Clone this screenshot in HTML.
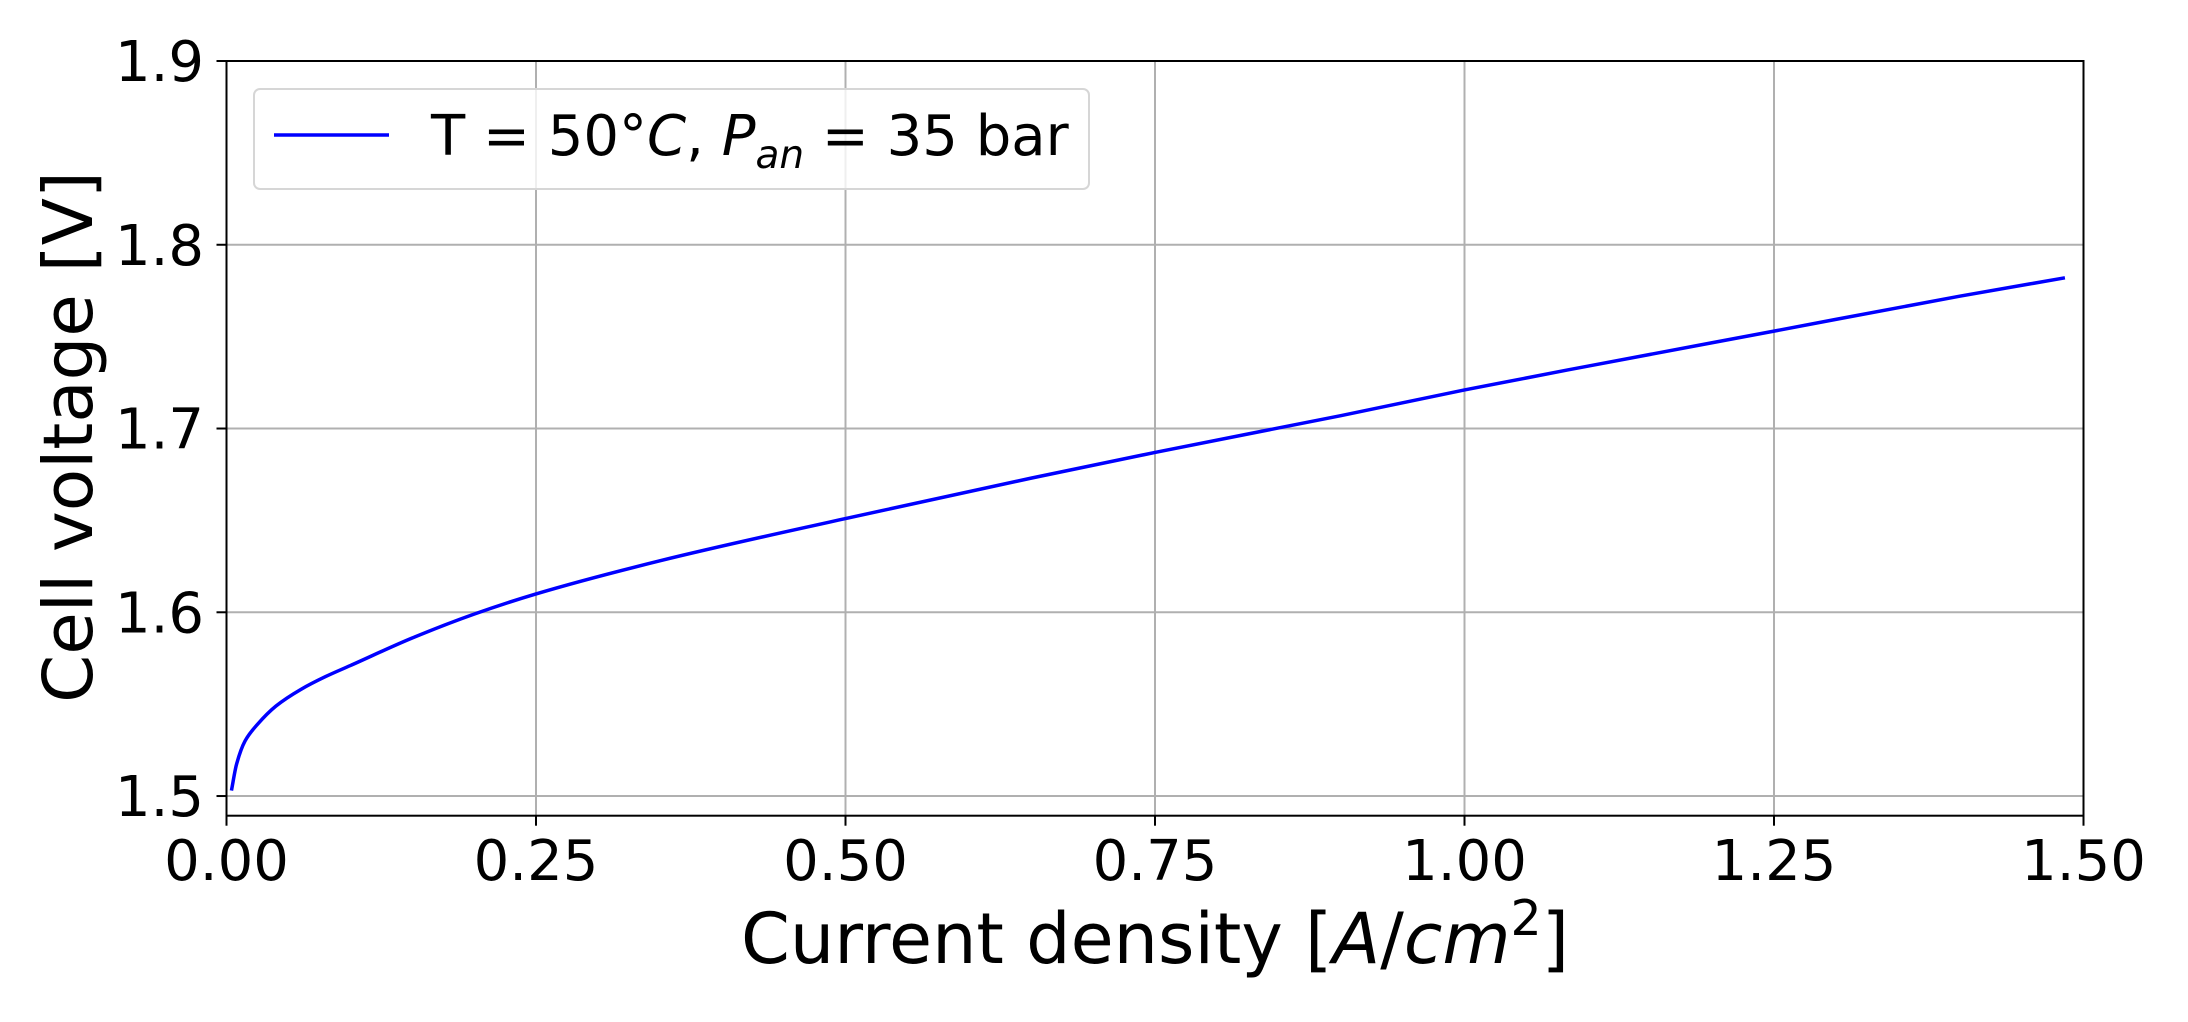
<!DOCTYPE html>
<html><head><meta charset="utf-8"><style>
html,body{margin:0;padding:0;background:#fff;}
svg{display:block;font-family:"DejaVu Sans","Liberation Sans",sans-serif;}
</style></head><body>
<svg id="chart" width="2188" height="1022" viewBox="0 0 2188 1022" xmlns="http://www.w3.org/2000/svg">
<g id="grid"></g>
<g id="ticks"></g>
<path id="curve" fill="none" stroke="#0000ff" stroke-width="3.5"/>
<rect x="226.5" y="61" width="1857" height="754.7" fill="none" stroke="#000" stroke-width="2"/>
<g>
<rect x="254" y="89" width="835" height="100" rx="6" fill="#fff" fill-opacity="0.8" stroke="#d6d6d6" stroke-width="2"/>
<line x1="274" y1="135" x2="389" y2="135" stroke="#0000ff" stroke-width="3.5"/>
<text x="431" y="155" font-size="56">T = 50°<tspan font-style="italic">C</tspan>, <tspan font-style="italic">P</tspan><tspan font-style="italic" font-size="39" dy="13">an</tspan><tspan dy="-13"> = 35 bar</tspan></text>
</g>
<text x="1155" y="963" font-size="70" text-anchor="middle">Current density [<tspan font-style="italic">A</tspan>/<tspan font-style="italic">cm</tspan><tspan font-size="49" dy="-28">2</tspan><tspan dy="28">]</tspan></text>
<text transform="translate(92,437) rotate(-90)" font-size="69" text-anchor="middle">Cell voltage [V]</text>
</svg>
<script>
const currentDensity=[0.004,0.008,0.015,0.025,0.04,0.06,0.08,0.1,0.15,0.2,0.25,0.35,0.5,0.65,0.75,0.9,1.0,1.1,1.25,1.4,1.485];
const cellVoltage=[1.503,1.517,1.530,1.539,1.549,1.558,1.565,1.571,1.586,1.599,1.610,1.628,1.651,1.673,1.687,1.707,1.721,1.734,1.753,1.772,1.782];
const xTicks=[0,0.25,0.5,0.75,1.0,1.25,1.5];
const xTickLabels=["0.00","0.25","0.50","0.75","1.00","1.25","1.50"];
const yTicks=[1.5,1.6,1.7,1.8,1.9];
const yTickLabels=["1.5","1.6","1.7","1.8","1.9"];
const L=226.5,R=2083.5,T=61,B=815.7,XMIN=0,XMAX=1.5,YMIN=1.4893,YMAX=1.9;
const sx=v=>L+(v-XMIN)/(XMAX-XMIN)*(R-L);
const sy=v=>B-(v-YMIN)/(YMAX-YMIN)*(B-T);
const NS="http://www.w3.org/2000/svg";
const grid=document.getElementById('grid'),ticks=document.getElementById('ticks');
function mk(tag,attrs,parent){const e=document.createElementNS(NS,tag);for(const k in attrs)e.setAttribute(k,attrs[k]);parent.appendChild(e);return e;}
xTicks.forEach((v,i)=>{
 const x=sx(v);
 const g=mk('line',{x1:x,x2:x,y1:T,y2:B,stroke:'#b0b0b0','stroke-width':2},grid);
 
 
 const t=mk('line',{x1:x,x2:x,y1:B,y2:B+10,stroke:'#000','stroke-width':2},ticks);
 
 
 const l=mk('text',{x:x,y:880,'font-size':56,'text-anchor':'middle'},ticks);
 l.textContent=xTickLabels[i];
 
 
});
yTicks.forEach((v,i)=>{
 const y=sy(v);
 const g=mk('line',{x1:L,x2:R,y1:y,y2:y,stroke:'#b0b0b0','stroke-width':2},grid);
 
 
 const t=mk('line',{x1:L-10,x2:L,y1:y,y2:y,stroke:'#000','stroke-width':2},ticks);
 
 
 const l=mk('text',{x:204,y:y+20,'font-size':56,'text-anchor':'end'},ticks);
 l.textContent=yTickLabels[i];
 
 
});
// monotone cubic (Fritsch-Carlson) through data points
const X=currentDensity.map(sx),Y=cellVoltage.map(sy),n=X.length;
const dx=[],m=[];
for(let i=0;i<n-1;i++){dx.push(X[i+1]-X[i]);m.push((Y[i+1]-Y[i])/dx[i]);}
const tg=[m[0]];
for(let i=1;i<n-1;i++){
 if(m[i-1]*m[i]<=0)tg.push(0);
 else{const w1=2*dx[i]+dx[i-1],w2=dx[i]+2*dx[i-1];tg.push((w1+w2)/(w1/m[i-1]+w2/m[i]));}
}
tg.push(m[n-2]);
let d='M'+X[0]+','+Y[0];
for(let i=0;i<n-1;i++){
 const h=dx[i]/3;
 d+=' C'+(X[i]+h)+','+(Y[i]+tg[i]*h)+' '+(X[i+1]-h)+','+(Y[i+1]-tg[i+1]*h)+' '+X[i+1]+','+Y[i+1];
}
document.getElementById('curve').setAttribute('d',d);
</script>
</body></html>
